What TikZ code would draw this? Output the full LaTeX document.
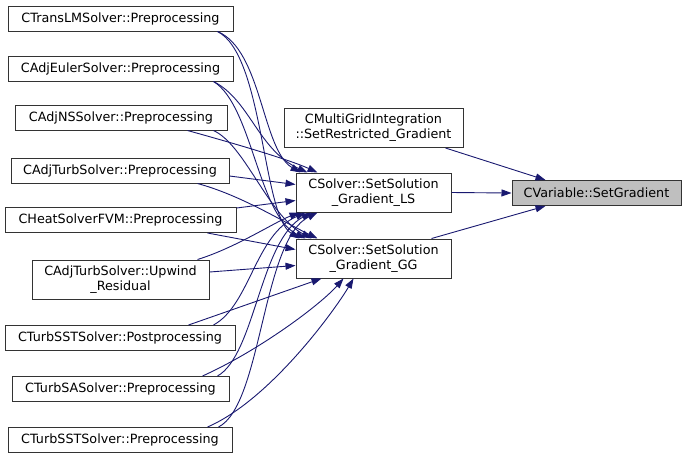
\documentclass[tikz,border=0pt]{standalone}
\usepackage{fontspec}
\setmainfont{DejaVu Sans}
\usetikzlibrary{arrows.meta}
\definecolor{edgeblue}{HTML}{191970}
\definecolor{calleegray}{HTML}{BFBFBF}
\begin{document}
\begin{tikzpicture}[x=1pt,y=-1pt,
    fn/.style={draw=black!80,line width=1pt,fill=white,inner sep=0pt,
      minimum height=25pt,align=center,
      font=\fontsize{12.75}{15}\selectfont},
    fntwo/.style={fn,minimum height=39pt},
    edge/.style={draw=edgeblue,line width=0.9pt,
      -{Triangle[length=10pt,width=7pt]}}]
    \useasboundingbox (0,0) rectangle (687,459);
    % callers
    \node[fn,minimum width=225pt] (tlm) at (120.5,18.5) {CTransLMSolver::Preprocessing};
    \node[fn,minimum width=225pt] (aeu) at (120.5,68.5) {CAdjEulerSolver::Preprocessing};
    \node[fn,minimum width=212pt] (ans) at (121,117.5) {CAdjNSSolver::Preprocessing};
    \node[fn,minimum width=218pt] (atp) at (120,170.5) {CAdjTurbSolver::Preprocessing};
    \node[fn,minimum width=231pt] (heat) at (120.5,220) {CHeatSolverFVM::Preprocessing};
    \node[fntwo,minimum width=177pt] (aup) at (120.5,279.5) {CAdjTurbSolver::Upwind\\\_Residual};
    \node[fn,minimum width=230pt] (sstpost) at (120,338) {CTurbSSTSolver::Postprocessing};
    \node[fn,minimum width=217pt] (sa) at (120.5,389) {CTurbSASolver::Preprocessing};
    \node[fn,minimum width=224pt] (sstpre) at (120,440) {CTurbSSTSolver::Preprocessing};
    % middle column
    \node[fntwo,minimum width=179pt] (mg) at (373.5,128) {CMultiGridIntegration\\::SetRestricted\_Gradient};
    \node[fntwo,minimum width=155pt] (ls) at (373.5,192.5) {CSolver::SetSolution\\\_Gradient\_LS};
    \node[fntwo,minimum width=155pt] (gg) at (373.5,258.5) {CSolver::SetSolution\\\_Gradient\_GG};
    % callee
    \node[fn,fill=calleegray,minimum width=169pt] (var) at (596.5,193) {CVariable::SetGradient};

    % edges into SetSolution_Gradient_LS
    \draw[edge] ([xshift=-16pt]tlm.south east) .. controls (262,50) and (262,150) .. ([xshift=5pt]ls.north west);
    \draw[edge] ([xshift=-20pt]aeu.south east) .. controls (250,100) and (258,150) .. ([xshift=12pt]ls.north west);
    \draw[edge] ([xshift=-40pt]ans.south east) .. controls (240,145) and (290,160) .. ([xshift=22pt]ls.north west);
    \draw[edge] ([yshift=-5.5pt]atp.east) -- ([yshift=8pt]ls.west);
    \draw[edge] ([yshift=-1pt]heat.north east) -- ([yshift=-8pt]ls.west);
    \draw[edge] ([xshift=-12pt]aup.north east) .. controls (235,248) and (275,222) .. ([xshift=4pt]ls.south west);
    \draw[edge] ([xshift=-22pt]sstpost.north east) .. controls (250,305) and (255,235) .. ([xshift=10pt]ls.south west);
    \draw[edge] ([xshift=-12pt]sa.north east) .. controls (255,355) and (260,240) .. ([xshift=16pt]ls.south west);
    \draw[edge] ([xshift=-14pt]sstpre.north east) .. controls (262,405) and (262,240) .. ([xshift=22pt]ls.south west);

    % edges into SetSolution_Gradient_GG
    \draw[edge] ([xshift=-16pt]tlm.south east) .. controls (264,55) and (262,215) .. ([xshift=4pt]gg.north west);
    \draw[edge] ([xshift=-20pt]aeu.south east) .. controls (252,105) and (258,215) .. ([xshift=10pt]gg.north west);
    \draw[edge] ([xshift=-14pt]ans.south east) .. controls (245,145) and (268,215) .. ([xshift=16pt]gg.north west);
    \draw[edge] ([xshift=-32pt]atp.south east) .. controls (240,195) and (280,220) .. ([xshift=22pt]gg.north west);
    \draw[edge] ([xshift=-29pt]heat.south east) -- ([yshift=9pt]gg.west);
    \draw[edge] ([yshift=7.5pt]aup.east) -- ([yshift=-7pt]gg.west);
    \draw[edge] ([xshift=-47pt]sstpost.north east) -- ([xshift=26pt]gg.south west);
    \draw[edge] ([xshift=-27pt]sa.north east) .. controls (260,350) and (320,305) .. ([xshift=48pt]gg.south west);
    \draw[edge] ([xshift=-25pt]sstpre.north east) .. controls (270,400) and (335,310) .. ([xshift=58pt]gg.south west);

    % edges into SetGradient
    \draw[edge] ([xshift=-18pt]mg.south east) -- ([xshift=34pt]var.north west);
    \draw[edge] (ls.east) -- (var.west);
    \draw[edge] ([xshift=-20pt]gg.north east) -- ([xshift=34pt]var.south west);
  \end{tikzpicture}
\end{document}
